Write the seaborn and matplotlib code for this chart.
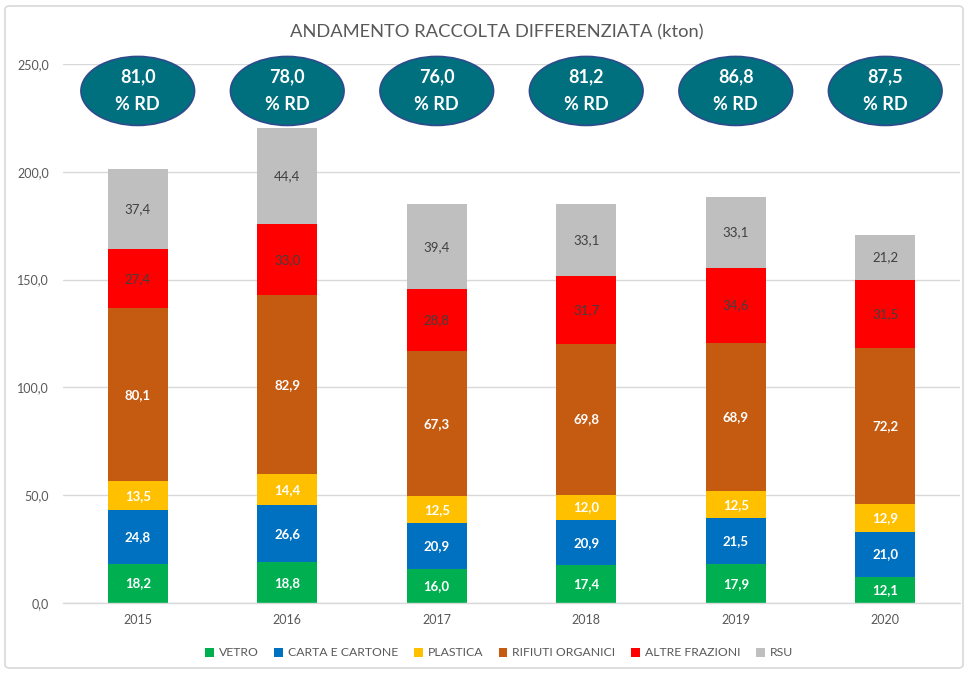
import matplotlib
matplotlib.use("Agg")
import matplotlib.pyplot as plt
from matplotlib.patches import Ellipse, FancyBboxPatch, Patch
import seaborn as sns
import numpy as np
import pandas as pd

years = ["2015", "2016", "2017", "2018", "2019", "2020"]
vetro = [18.2, 18.8, 16.0, 17.4, 17.9, 12.1]
carta = [24.8, 26.6, 20.9, 20.9, 21.5, 21.0]
plastica = [13.5, 14.4, 12.5, 12.0, 12.5, 12.9]
organici = [80.1, 82.9, 67.3, 69.8, 68.9, 72.2]
altre = [27.4, 33.0, 28.8, 31.7, 34.6, 31.5]
rsu = [37.4, 44.4, 39.4, 33.1, 33.1, 21.2]
pct_rd = [81.0, 78.0, 76.0, 81.2, 86.8, 87.5]

series_names = ["VETRO", "CARTA E CARTONE", "PLASTICA", "RIFIUTI ORGANICI", "ALTRE FRAZIONI", "RSU"]
series_vals = [vetro, carta, plastica, organici, altre, rsu]
colors = ["#00B050", "#0070C0", "#FFC000", "#C55A11", "#FF0000", "#BFBFBF"]
label_colors = ["white", "white", "white", "white", "#404040", "#404040"]
label_weights = ["bold", "bold", "bold", "bold", "normal", "normal"]

sns.set_theme(style="white")
plt.rcParams["font.family"] = ["Lato", "DejaVu Sans"]

fig = plt.figure(figsize=(9.65, 6.76), dpi=100)
ax = fig.add_axes([63 / 965, 1 - 603 / 676, 897 / 965, (603 - 64) / 676])

vals = np.array(series_vals)
cum = np.cumsum(vals, axis=0)

# draw stacked bars: largest cumulative first
for i in range(len(series_names) - 1, -1, -1):
    df = pd.DataFrame({"year": years, "v": cum[i]})
    sns.barplot(data=df, x="year", y="v", color=colors[i], saturation=1,
                width=0.4, ax=ax, zorder=2, edgecolor="none", linewidth=0)

# labels
for i in range(len(series_names)):
    for j in range(len(years)):
        mid = cum[i][j] - vals[i][j] / 2
        txt = f"{vals[i][j]:.1f}".replace(".", ",")
        ax.text(j, mid, txt, ha="center", va="center", fontsize=9.5,
                color=label_colors[i], fontweight=label_weights[i], zorder=4)

ax.set_ylim(0, 250)
ax.set_xlim(-0.5, 5.5)
ax.set_yticks(np.arange(0, 251, 50))
ax.set_yticklabels([f"{v:.1f}".replace(".", ",") for v in np.arange(0, 251, 50)])
ax.yaxis.grid(True, color="#D9D9D9", linewidth=1, zorder=0)
ax.set_axisbelow(True)
ax.set_xlabel("")
ax.set_ylabel("")
for s in ["left", "right", "top"]:
    ax.spines[s].set_visible(False)
ax.spines["bottom"].set_color("#D9D9D9")
ax.spines["bottom"].set_linewidth(1)
ax.tick_params(axis="both", length=0, labelsize=9, colors="#595959")
ax.tick_params(axis="y", pad=10)
ax.tick_params(axis="x", pad=8)

# ellipses with % RD
for j, p in enumerate(pct_rd):
    e = Ellipse((j, 237.5), width=0.76, height=32, facecolor="#00707F",
                edgecolor="#2F4B8C", linewidth=1.2, zorder=5, clip_on=False)
    ax.add_patch(e)
    ax.text(j, 244, f"{p:.1f}".replace(".", ","), ha="center", va="center",
            color="white", fontsize=13, fontweight="bold", zorder=6, clip_on=False)
    ax.text(j, 231, "% RD", ha="center", va="center",
            color="white", fontsize=13, fontweight="bold", zorder=6, clip_on=False)

fig.text(497 / 965, 1 - 32 / 676, "ANDAMENTO RACCOLTA DIFFERENZIATA (kton)",
         ha="center", va="center", fontsize=13.2, color="#595959")

handles = [Patch(facecolor=c, edgecolor="none") for c in colors]
fig.legend(handles, series_names, loc="center", bbox_to_anchor=(499 / 965, 1 - 653 / 676),
           ncol=6, frameon=False, fontsize=8.8, labelcolor="#595959",
           handlelength=0.7, handleheight=0.7, handletextpad=0.4, columnspacing=1.3)

border = FancyBboxPatch((5 / 965, 8 / 676), 958 / 965, 662 / 676,
                        boxstyle="round,pad=0,rounding_size=0.005",
                        transform=fig.transFigure, facecolor="none",
                        edgecolor="#D9D9D9", linewidth=1.2)
fig.patches.append(border)

fig.savefig("out.png", dpi=100)
